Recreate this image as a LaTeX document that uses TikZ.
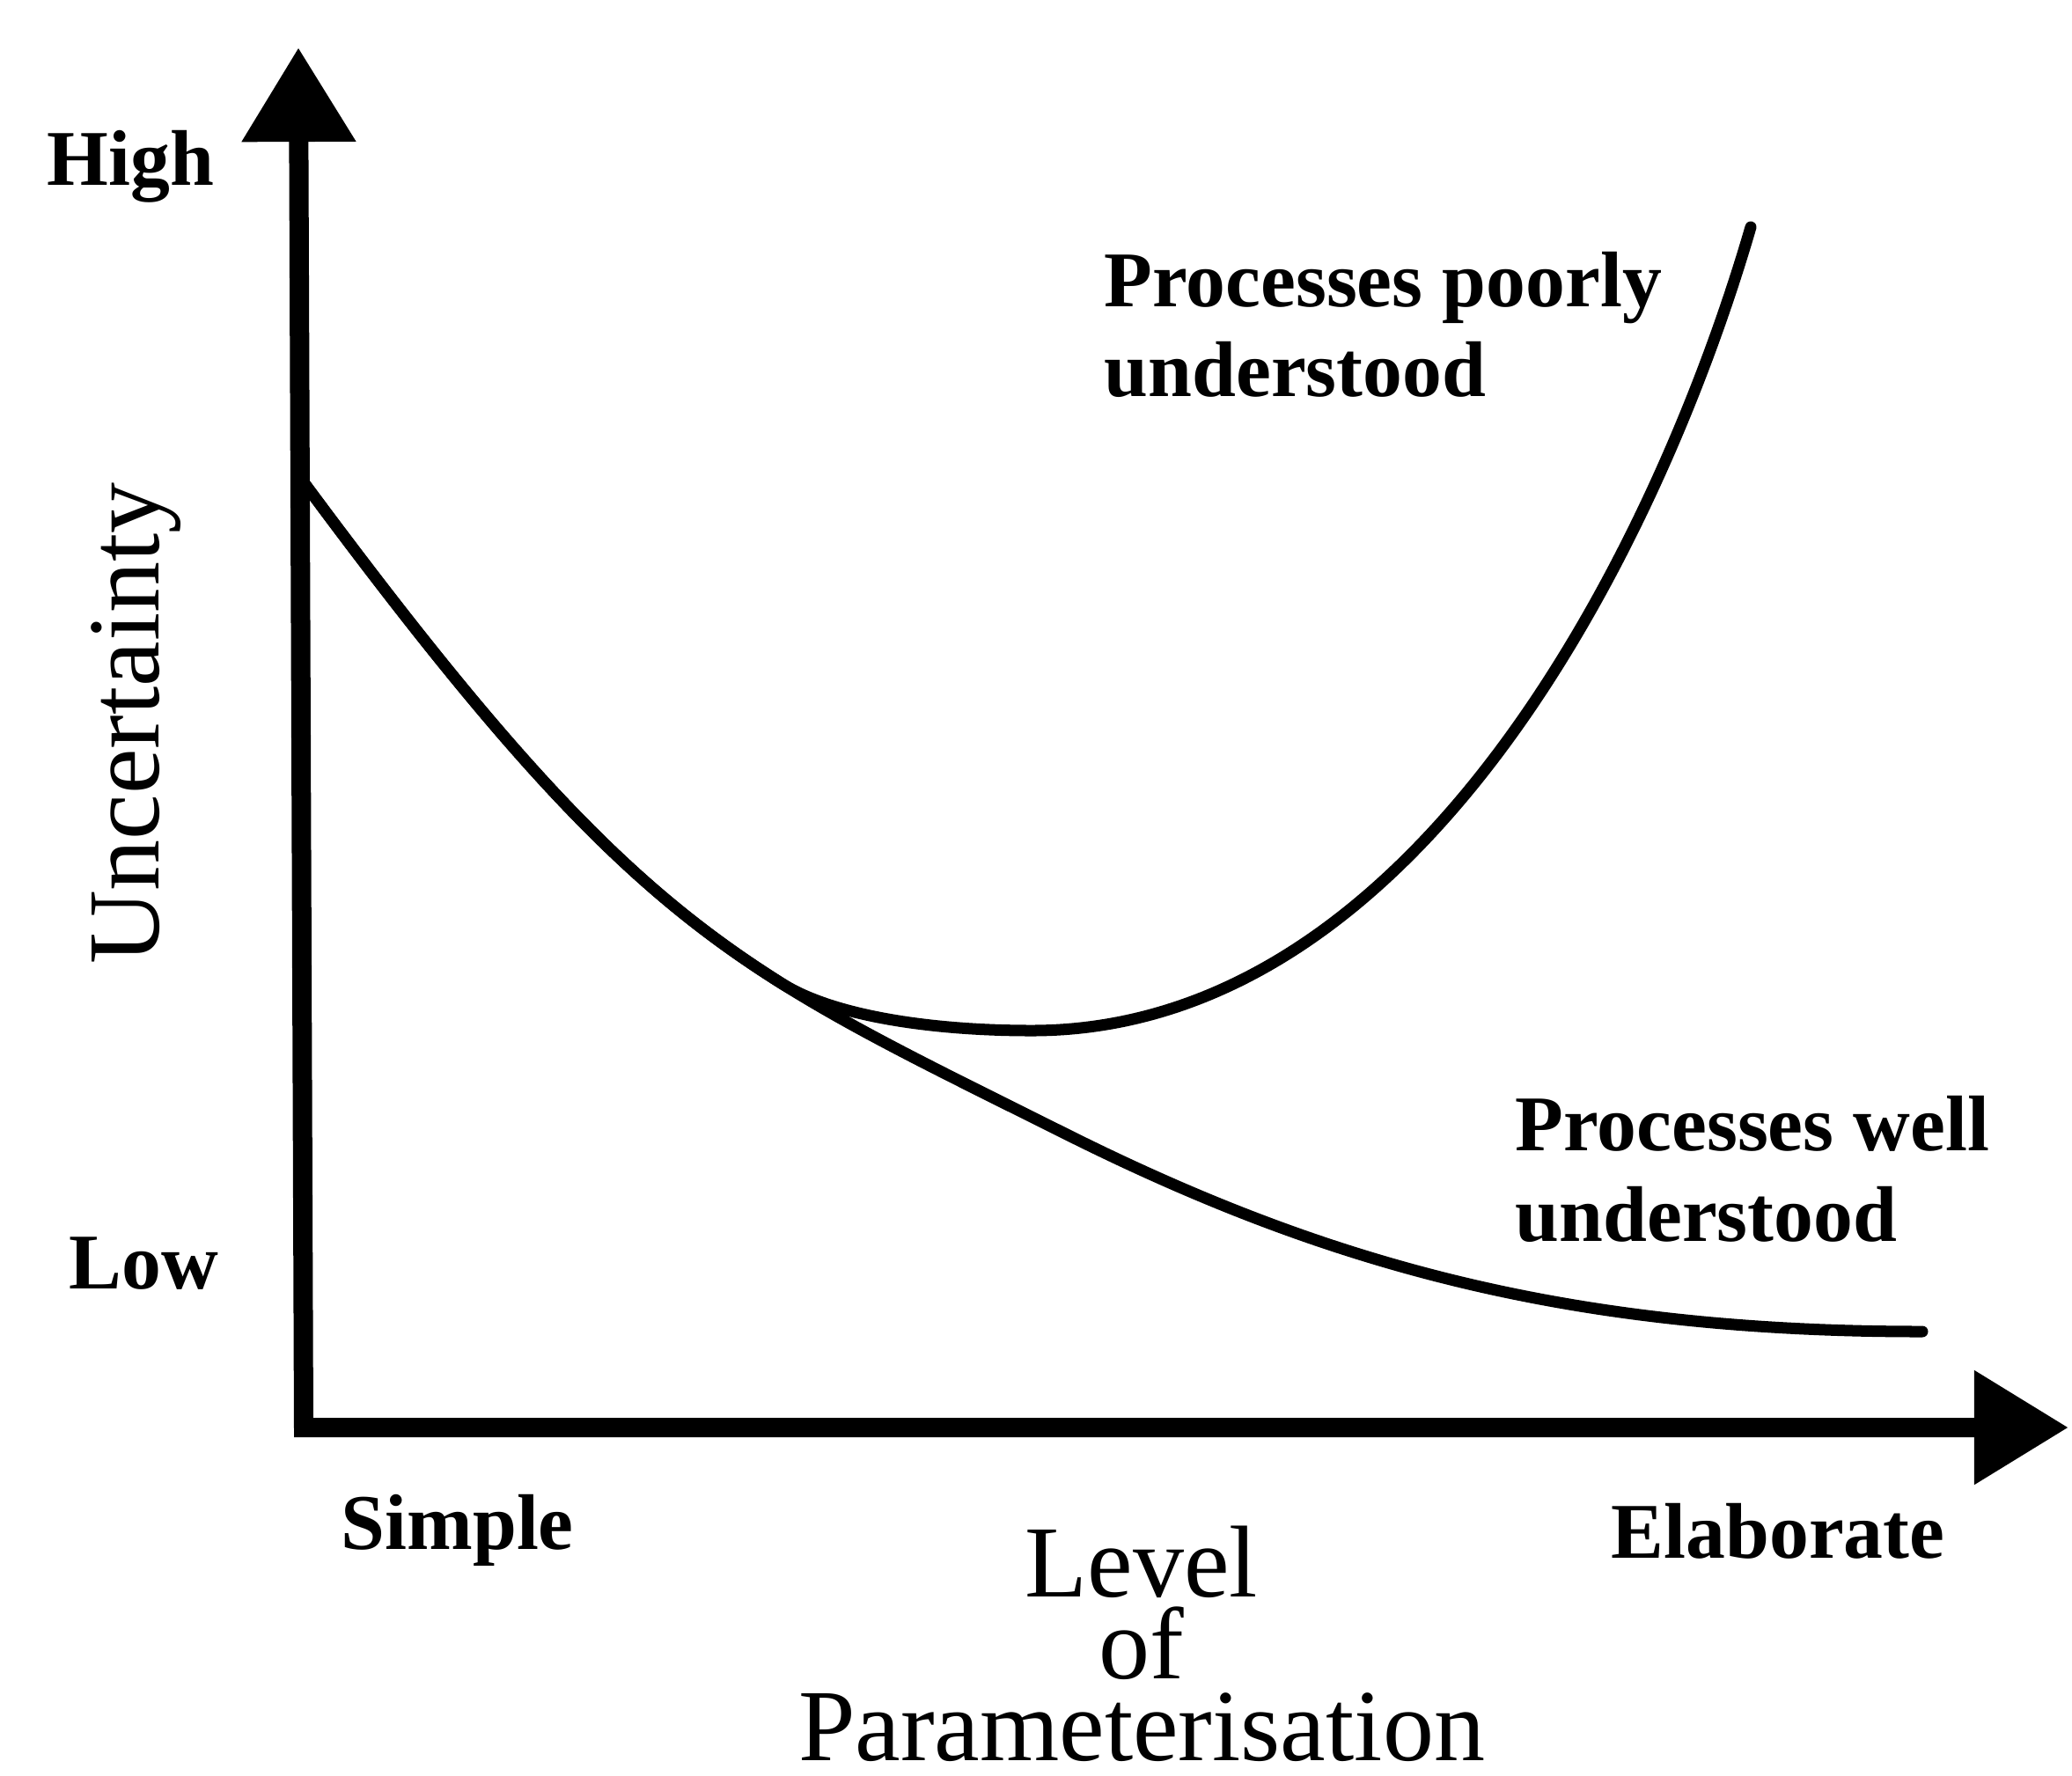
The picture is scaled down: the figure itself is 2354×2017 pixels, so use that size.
\documentclass[tikz,border=0pt]{standalone}
\usepackage{fontspec}
\setmainfont{Liberation Serif}
\usepackage{tikz}
\usetikzlibrary{arrows.meta}
\tikzset{%
  myaxis/.style={<->, line width=0.22cm, >={Triangle[length=1.07cm, width=1.24cm]}},
  mycurve/.style={line width=0.13cm, line cap=round, line join=round},
  mylabel/.style={font=\fontsize{25.5}{28}\selectfont\bfseries, inner sep=0pt, anchor=base west},
  mytitle/.style={font=\fontsize{33}{26.5}\selectfont, inner sep=0pt, align=center}
}
\begin{document}
\begin{tikzpicture}[x=0.01cm, y=-0.01cm]
  \useasboundingbox (0,0) rectangle (2354,2017);

  % axes
  \coordinate (O) at (345,1622);
  \coordinate (ytip) at (339,54);
  \coordinate (xtip) at (2350,1622);
  \draw [myaxis] (ytip) -- (O) -- (xtip);

  % curves
  \coordinate (start) at (345,548);
  \coordinate (split) at (888.5,1117.7);
  \coordinate (bottom) at (1172,1171);
  \draw [mycurve] (start) .. controls (725,1061) and (830,1098) .. (1210,1288)
    .. controls (1510,1438) and (1784,1513) .. (2184,1513);
  \draw [mycurve] (start) .. controls (592,881.5) and (722.8,1013.8) .. (split)
    .. controls (948.5,1155.3) and (1062,1171) .. (bottom)
    .. controls (1620,1171) and (1890,600) .. (1989,258);

  % labels
  \node [mylabel] (high) at (53,210) {High};
  \node [mylabel] (low) at (78,1464) {Low};
  \node [mylabel] (simple) at (387,1760) {Simple};
  \node [mylabel] (elab) at (1830,1770) {Elaborate};
  \node [mylabel] (poor1) at (1254,348) {Processes poorly};
  \node [mylabel] (poor2) at ([yshift=-1.02cm]poor1.base west) {understood};
  \node [mylabel] (well1) at (1721,1307) {Processes well};
  \node [mylabel] (well2) at ([yshift=-1.03cm]well1.base west) {understood};

  \node [mytitle, rotate=90, anchor=base] (unc) at (180,822) {Uncertainty};
  \node [mytitle, anchor=north] (level) at (1297,1733) {Level\\of\\Parameterisation};
\end{tikzpicture}
\end{document}
